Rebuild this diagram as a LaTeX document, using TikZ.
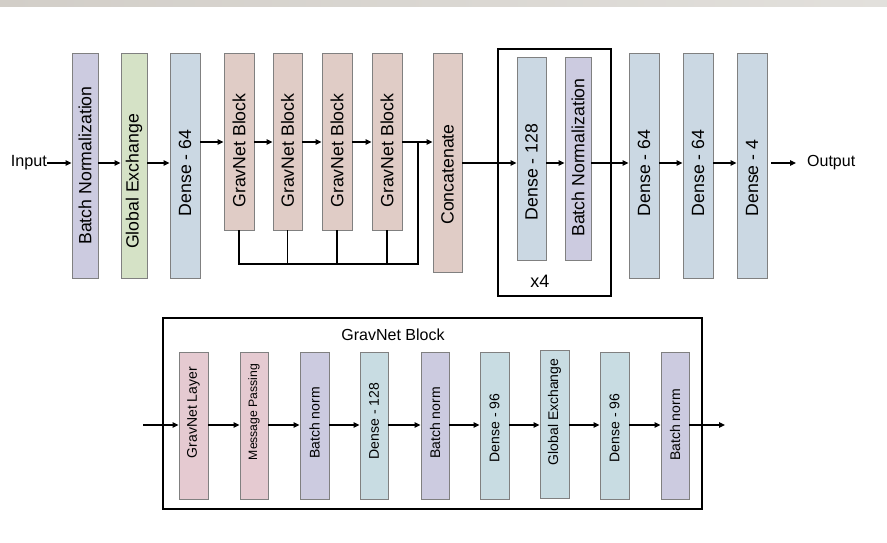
\documentclass[tikz,border=0pt]{standalone}
\usepackage{fontspec}
\setmainfont{Liberation Sans}
\usetikzlibrary{arrows.meta}
\definecolor{cBN}{RGB}{204,203,224}
\definecolor{cGE}{RGB}{213,226,198}
\definecolor{cDN}{RGB}{203,216,227}
\definecolor{cGB}{RGB}{224,204,198}
\definecolor{cGL}{RGB}{229,202,209}
\definecolor{cDB}{RGB}{200,220,226}
\definecolor{cBrd}{RGB}{128,128,128}
\definecolor{bandL}{RGB}{210,206,200}
\definecolor{bandR}{RGB}{226,224,220}
\tikzset{
  box/.style={draw=cBrd, line width=0.9pt, inner sep=0pt, minimum height=#1},
  box/.default=225pt,
  lbl/.style={rotate=90, inner sep=0pt, font=\fontsize{17.7}{20}\selectfont},
  lbls/.style={rotate=90, inner sep=0pt, font=\fontsize{14}{16}\selectfont},
  conn/.style={line width=1.2pt, black},
  arr/.style={conn, -{Triangle[length=6pt,width=5.5pt]}},
  frame/.style={draw=black, line width=1.2pt},
}
\begin{document}
\begin{tikzpicture}[x=1pt,y=-1pt]
\useasboundingbox (0,0) rectangle (887,543);
\shade[left color=bandL, right color=bandR] (0,0) rectangle (887,7);
\coordinate (rowA) at (0,163);
\coordinate (rowB) at (0,142);
% top row boxes
\node[box, fill=cBN, minimum width=26pt] (bn) at (85,165.5) {};
\node[box, fill=cGE, minimum width=26pt] (ge) at (134,165.5) {};
\node[box, fill=cDN, minimum width=30pt] (da) at (185,165.5) {};
\node[box=177pt, fill=cGB, minimum width=30pt] (g1) at (239,141.5) {};
\node[box=177pt, fill=cGB, minimum width=29pt] (g2) at (287.5,141.5) {};
\node[box=177pt, fill=cGB, minimum width=30pt] (g3) at (337,141.5) {};
\node[box=177pt, fill=cGB, minimum width=30pt] (g4) at (387,141.5) {};
\node[box=219pt, fill=cGB, minimum width=29pt] (cat) at (447.5,162.5) {};
\node[frame, minimum width=113pt, minimum height=247pt, inner sep=0pt] (rep) at (554.5,172.5) {};
\node[box=203pt, fill=cDN, minimum width=29pt] (d128) at (531.5,158.5) {};
\node[box=203pt, fill=cBN, minimum width=26pt] (bnx) at (578,158.5) {};
\node[box, fill=cDN, minimum width=30pt] (db) at (644,165.5) {};
\node[box, fill=cDN, minimum width=30pt] (dc) at (698,165.5) {};
\node[box, fill=cDN, minimum width=30pt] (dd) at (752,165.5) {};
% top labels
\node[lbl] (bnT) at (85,165.5) {Batch Normalization};
\node[lbl] (geT) at (134,181.5) {Global Exchange};
\node[lbl] (daT) at (185,173) {Dense - 64};
\node[lbl] (g1T) at (239,150.5) {GravNet Block};
\node[lbl] (g2T) at (287.5,150.5) {GravNet Block};
\node[lbl] (g3T) at (337,150.5) {GravNet Block};
\node[lbl] (g4T) at (387,150.5) {GravNet Block};
\node[lbl] (catT) at (447.5,174.5) {Concatenate};
\node[lbl] (d128T) at (531.5,172) {Dense - 128};
\node[lbl] (bnxT) at (578,157.5) {Batch Normalization};
\node[lbl] (dbT) at (644,173) {Dense - 64};
\node[lbl] (dcT) at (698,173) {Dense - 64};
\node[lbl] (ddT) at (752,178) {Dense - 4};
\node[inner sep=0pt, font=\fontsize{18}{20}\selectfont] (x4) at (540,281) {x4};
\node[inner sep=0pt, anchor=east, font=\fontsize{16.2}{18}\selectfont] (inp) at (47,163) {Input};
\node[inner sep=0pt, anchor=west, font=\fontsize{16}{18}\selectfont] (outp) at (807,163) {Output};
\coordinate (outEnd) at (796,163);
% top arrows
\draw[arr] (inp.east) -- (bn.west |- rowA);
\draw[arr] (bn.east |- rowA) -- (ge.west |- rowA);
\draw[arr] (ge.east |- rowA) -- (da.west |- rowA);
\draw[arr] (da.east |- rowB) -- (g1.west |- rowB);
\draw[arr] (g1.east |- rowB) -- (g2.west |- rowB);
\draw[arr] (g2.east |- rowB) -- (g3.west |- rowB);
\draw[arr] (g3.east |- rowB) -- (g4.west |- rowB);
\draw[arr] (g4.east |- rowB) -- (cat.west |- rowB);
\coordinate (jT) at (418,142);
\coordinate (jB) at (418,264);
\coordinate (fb1) at (239,264);
\draw[conn] (g1.south) -- (fb1) -- (jB) -- (jT);
\draw[conn] (g2.south) -- (g2.south |- jB);
\draw[conn] (g3.south) -- (g3.south |- jB);
\draw[conn] (g4.south) -- (g4.south |- jB);
\draw[arr] (cat.east |- rowA) -- (d128.west |- rowA);
\draw[arr] (d128.east |- rowA) -- (bnx.west |- rowA);
\draw[arr] (bnx.east |- rowA) -- (db.west |- rowA);
\draw[arr] (db.east |- rowA) -- (dc.west |- rowA);
\draw[arr] (dc.east |- rowA) -- (dd.west |- rowA);
\draw[arr] ([xshift=4pt]dd.east |- rowA) -- (outEnd);
% bottom block
\node[frame, minimum width=539pt, minimum height=191pt, inner sep=0pt] (blk) at (432.5,413.5) {};
\node[inner sep=0pt, font=\fontsize{16}{18}\selectfont] (blkT) at (393,335) {GravNet Block};
\coordinate (rowC) at (0,425);
\node[box=147pt, fill=cGL, minimum width=29pt] (s1) at (193.5,425.5) {};
\node[box=147pt, fill=cGL, minimum width=28pt] (s2) at (254,425.5) {};
\node[box=147pt, fill=cBN, minimum width=29pt] (s3) at (314.5,425.5) {};
\node[box=147pt, fill=cDB, minimum width=28pt] (s4) at (374,425.5) {};
\node[box=147pt, fill=cBN, minimum width=28pt] (s5) at (435,425.5) {};
\node[box=147pt, fill=cDB, minimum width=29pt] (s6) at (494.5,425.5) {};
\node[box=148pt, fill=cDB, minimum width=29pt] (s7) at (554.5,424) {};
\node[box=147pt, fill=cDB, minimum width=29pt] (s8) at (614.5,425.5) {};
\node[box=147pt, fill=cBN, minimum width=28pt] (s9) at (675,425.5) {};
\node[lbls] (s1T) at (193.5,412.5) {GravNet Layer};
\node[rotate=90, inner sep=0pt, font=\fontsize{12.2}{14}\selectfont] (s2T) at (254,412) {Message Passing};
\node[lbls] (s3T) at (314.5,423) {Batch norm};
\node[lbls] (s4T) at (374,421) {Dense - 128};
\node[lbls] (s5T) at (435,423) {Batch norm};
\node[lbls] (s6T) at (494.5,428) {Dense - 96};
\node[lbls] (s7T) at (554.5,412) {Global Exchange};
\node[lbls] (s8T) at (614.5,428) {Dense - 96};
\node[lbls] (s9T) at (675,425) {Batch norm};
\coordinate (inC) at (143,425);
\coordinate (outC) at (725,425);
\draw[arr] (inC) -- (s1.west |- rowC);
\draw[arr] (s1.east |- rowC) -- (s2.west |- rowC);
\draw[arr] (s2.east |- rowC) -- (s3.west |- rowC);
\draw[arr] (s3.east |- rowC) -- (s4.west |- rowC);
\draw[arr] (s4.east |- rowC) -- (s5.west |- rowC);
\draw[arr] (s5.east |- rowC) -- (s6.west |- rowC);
\draw[arr] (s6.east |- rowC) -- (s7.west |- rowC);
\draw[arr] (s7.east |- rowC) -- (s8.west |- rowC);
\draw[arr] (s8.east |- rowC) -- (s9.west |- rowC);
\draw[arr] (s9.east |- rowC) -- (outC);
\end{tikzpicture}
\end{document}
